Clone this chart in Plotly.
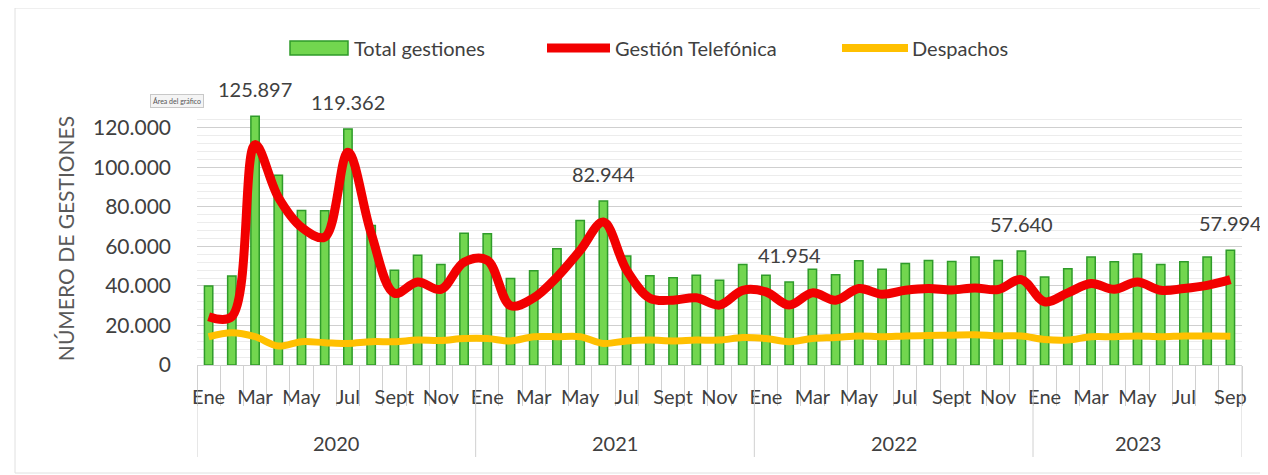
import plotly.graph_objects as go

years = ["2020", "2021", "2022", "2023"]
months_per_year = [12, 12, 12, 9]
month_ticks = ["Ene", "", "Mar", "", "May", "", "Jul", "", "Sept", "", "Nov", ""] * 3 + \
              ["Ene", "", "Mar", "", "May", "", "Jul", "", "Sep"]

total = [40000, 45000, 125897, 96000, 78200, 78000, 119362, 70600, 47900, 55500, 50900, 66700,
         66400, 43700, 47700, 58800, 73100, 82944, 55100, 45200, 44200, 45400, 42900, 50900,
         45400, 41954, 48400, 45700, 52800, 48400, 51400, 52900, 52400, 54600, 52900, 57640,
         44500, 48700, 54600, 52300, 56100, 50900, 52300, 54600, 57994]
telefonica = [24400, 24500, 111500, 84900, 69700, 64700, 107600, 66600, 36300, 42000, 38300, 52000,
              53000, 30000, 34000, 44500, 58000, 72300, 48000, 33800, 32800, 34000, 30300, 37800,
              37000, 30300, 36500, 32800, 38700, 35800, 37800, 38700, 38000, 39000, 38200, 43200,
              32000, 36500, 41200, 38300, 42000, 37800, 38700, 40300, 43200]
despachos = [14300, 16300, 14300, 9600, 11800, 11300, 10900, 11800, 11800, 12600, 12400, 13400,
             13400, 12200, 14300, 14300, 14300, 10900, 12200, 12600, 12200, 12600, 12600, 13900,
             13400, 11800, 13400, 13900, 14700, 14300, 14700, 14900, 15100, 15300, 14700, 14700,
             12900, 12600, 14300, 14300, 14700, 14300, 14700, 14700, 14600]

labeled_idx = [2, 6, 17, 25, 35, 44]
series_names = ["Total gestiones", "Gestión Telefónica", "Despachos"]

FONT = "Lato"
GREEN, GREEN_EDGE, RED, YELLOW = "#72d64f", "#2f9b2a", "#f20000", "#ffc000"
x = list(range(len(total)))

# page has an 8px body margin: figure origin sits at (8, 8) on screen
OFF = 8
FIG_W, FIG_H = 1260, 467
PL, PR, PT, PB = 197, 1242, 112, 365  # plot area on screen


def px(sx):
    return (sx - PL) / (PR - PL)


def py(sy):
    return (PB - sy) / (PB - PT)


def fmt(v):
    return f"{v:,}".replace(",", ".")


fig = go.Figure()
fig.add_trace(go.Bar(x=x, y=total, name=series_names[0], width=0.36,
                     marker=dict(color=GREEN, line=dict(color=GREEN_EDGE, width=1.5))))
fig.add_trace(go.Scatter(x=x, y=telefonica, name=series_names[1], mode="lines",
                         line=dict(color=RED, width=9, shape="spline", smoothing=1)))
fig.add_trace(go.Scatter(x=x, y=despachos, name=series_names[2], mode="lines",
                         line=dict(color=YELLOW, width=7, shape="spline", smoothing=1)))

annotations = []
for i in labeled_idx:
    annotations.append(dict(x=i, y=total[i], xref="x", yref="y", text=fmt(total[i]),
                            showarrow=False, yshift=27, yanchor="middle",
                            font=dict(family=FONT, size=20, color="#404040")))

shapes = []
start = 0
for yr, n in zip(years, months_per_year):
    annotations.append(dict(x=start + (n - 1) / 2, y=py(443), xref="x", yref="paper", text=yr,
                            showarrow=False, yanchor="middle",
                            font=dict(family=FONT, size=20, color="#404040")))
    shapes.append(dict(type="line", xref="x", yref="paper", x0=start - 0.5, x1=start - 0.5,
                       y0=0, y1=py(457), line=dict(color="#d0d0d0", width=1)))
    start += n
shapes.append(dict(type="line", xref="x", yref="paper", x0=start - 0.5, x1=start - 0.5,
                   y0=0, y1=py(457), line=dict(color="#d0d0d0", width=1)))
# chart-area frame
shapes.append(dict(type="rect", xref="paper", yref="paper", x0=px(15), x1=px(1266), y0=py(473), y1=py(8),
                   line=dict(color="#e0e0e0", width=1)))

# custom legend
LEG_Y = 48
shapes.append(dict(type="rect", xref="paper", yref="paper", x0=px(290), x1=px(348),
                   y0=py(LEG_Y + 7), y1=py(LEG_Y - 7),
                   fillcolor=GREEN, line=dict(color=GREEN_EDGE, width=1.5)))
shapes.append(dict(type="line", xref="paper", yref="paper", x0=px(547), x1=px(610),
                   y0=py(LEG_Y), y1=py(LEG_Y), line=dict(color=RED, width=9)))
shapes.append(dict(type="line", xref="paper", yref="paper", x0=px(842), x1=px(908),
                   y0=py(LEG_Y), y1=py(LEG_Y), line=dict(color=YELLOW, width=8)))
for name, sx in zip(series_names, [352, 613, 910]):
    annotations.append(dict(x=px(sx), y=py(LEG_Y), xref="paper", yref="paper", text=name,
                            showarrow=False, xanchor="left", yanchor="middle",
                            font=dict(family=FONT, size=20, color="#404040")))

annotations.append(dict(x=px(177), y=py(101), xref="paper", yref="paper", text="Área del gráfico",
                        showarrow=False, xanchor="center", yanchor="middle",
                        font=dict(family=FONT, size=7, color="#555"),
                        bgcolor="#f4f4f4", bordercolor="#c8c8c8", borderwidth=1, borderpad=2))

fig.update_layout(
    width=FIG_W, height=FIG_H,
    margin=dict(l=PL - OFF, r=FIG_W - (PR - OFF), t=PT - OFF, b=FIG_H - (PB - OFF)),
    paper_bgcolor="white", plot_bgcolor="white",
    font=dict(family=FONT, color="#595959"),
    barmode="overlay",
    showlegend=False,
    annotations=annotations, shapes=shapes,
)
fig.update_xaxes(range=[-0.5, len(total) - 0.5], tickmode="array", tickvals=x, ticktext=month_ticks,
                 ticks="", tickfont=dict(family=FONT, size=20, color="#404040"),
                 ticklabelstandoff=14,
                 showgrid=False, showline=True, linecolor="#d0d0d0",
                 minor=dict(ticks="outside", tick0=-0.5, dtick=1, ticklen=40, tickcolor="#d0d0d0"),
                 zeroline=False)
ytv = [0, 20000, 40000, 60000, 80000, 100000, 120000]
fig.update_yaxes(range=[0, 128000], tickmode="array",
                 tickvals=ytv, ticktext=[fmt(v) for v in ytv],
                 tickfont=dict(family=FONT, size=21, color="#404040"),
                 showgrid=True, gridcolor="#cfcfcf", gridwidth=1,
                 minor=dict(showgrid=True, dtick=4000, tick0=0, gridcolor="#ececec"),
                 zeroline=False, showline=False, ticks="", ticklabelstandoff=25,
                 title=dict(text="NÚMERO DE GESTIONES", font=dict(family=FONT, size=21, color="#595959"),
                            standoff=12))
fig.write_html("out.html")
